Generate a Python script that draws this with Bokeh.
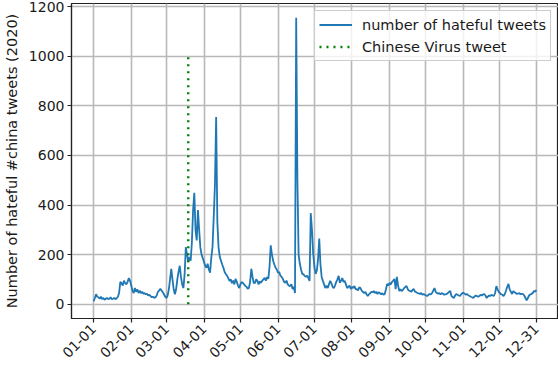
import math
import pandas as pd
from bokeh.plotting import figure
from bokeh.models import Range1d, FixedTicker
from bokeh.embed import file_html
from bokeh.resources import INLINE

# ---- data (daily counts of hateful #china tweets, 2020) ----
start_date = "2020-01-01"
jan = [12, 25, 40, 30, 28, 22, 30, 20, 25, 18, 22, 25, 20, 22, 28, 20, 22, 25, 20, 24,
       30, 45, 90, 85, 75, 95, 85, 80, 90, 105, 95]
feb = [75, 55, 45, 65, 50, 60, 45, 55, 45, 50, 42, 45, 40, 42, 35, 38, 32, 28, 30, 25,
       28, 35, 50, 55, 62, 55, 48, 40, 30]
mar = [25, 35, 60, 100, 143, 100, 60, 40, 60, 100, 130, 155, 110, 80, 65, 120, 230, 200,
       170, 190, 175, 250, 380, 449, 300, 257, 380, 300, 228, 200, 185]
apr = [170, 155, 147, 163, 140, 127, 188, 230, 351, 480, 755, 330, 229, 190, 175, 160,
       147, 130, 122, 115, 105, 94, 100, 85, 95, 80, 102, 90, 75, 65]
may = [80, 90, 86, 80, 73, 70, 62, 65, 90, 143, 110, 85, 86, 100, 94, 80, 92, 86, 95, 100,
       106, 95, 110, 102, 150, 237, 200, 175, 160, 147, 140]
jun = [127, 130, 115, 110, 102, 90, 86, 95, 80, 75, 73, 80, 61, 70, 45, 1155, 500, 200,
       163, 140, 122, 120, 114, 110, 115, 106, 94, 367, 300, 204]
jul = [150, 122, 135, 180, 265, 160, 110, 94, 80, 65, 75, 65, 80, 94, 85, 70, 65, 75, 90,
       100, 114, 86, 95, 105, 90, 94, 80, 65, 70, 75, 61]
aug = [70, 65, 73, 60, 61, 55, 68, 65, 55, 50, 45, 50, 40, 33, 40, 45, 50, 48, 53, 45,
       50, 41, 48, 45, 40, 44, 38, 41, 60, 82, 75]
sep = [86, 80, 90, 95, 102, 61, 110, 75, 53, 60, 53, 58, 65, 70, 73, 60, 55, 53, 50, 58,
       61, 50, 48, 45, 44, 41, 45, 38, 41, 38]
oct_ = [35, 33, 38, 41, 40, 45, 55, 65, 50, 45, 42, 45, 40, 45, 42, 38, 40, 41, 45, 50,
        53, 33, 28, 25, 35, 41, 38, 35, 33, 40, 45]
nov = [45, 42, 38, 41, 35, 33, 30, 28, 25, 30, 35, 33, 30, 33, 38, 35, 40, 41, 35, 25,
       30, 35, 33, 38, 35, 33, 45, 73, 60, 50]
dec = [45, 40, 38, 33, 41, 55, 70, 82, 60, 50, 41, 53, 48, 45, 41, 43, 45, 40, 42, 41,
       35, 25, 15, 25, 35, 40, 41, 45, 53, 50, 57]

tick_dates = ["2020-01-01", "2020-02-01", "2020-03-01", "2020-04-01", "2020-05-01",
              "2020-06-01", "2020-07-01", "2020-08-01", "2020-09-01", "2020-10-01",
              "2020-11-01", "2020-12-01", "2020-12-31"]
tick_labels = ["01-01", "02-01", "03-01", "04-01", "05-01", "06-01", "07-01", "08-01",
               "09-01", "10-01", "11-01", "12-01", "12-31"]
y_ticks = [0, 200, 400, 600, 800, 1000, 1200]

event_date = "2020-03-19"
event_y = [0, 1000]

series_name = "number of hateful tweets"
event_name = "Chinese Virus tweet"
y_label = "Number of hateful #china tweets (2020)"

# ---- build ----
counts = jan + feb + mar + apr + may + jun + jul + aug + sep + oct_ + nov + dec
t0 = pd.Timestamp(start_date)
x_days = list(range(len(counts)))
tick_pos = [(pd.Timestamp(d) - t0).days for d in tick_dates]
ev_x = (pd.Timestamp(event_date) - t0).days

FONT = "DejaVu Sans"
TXT = "#1a1a1a"

p = figure(width=558, height=366, output_backend="svg", toolbar_location=None,
           x_range=Range1d(-18.25, 383.25), y_range=Range1d(-57.75, 1212.75),
           min_border_top=3, min_border_right=0, min_border_left=0, min_border_bottom=48)

p.line(x_days, counts, line_color="#1f77b4", line_width=1.8, legend_label=series_name)
p.line([ev_x, ev_x], event_y, line_color="green", line_width=2.4,
       line_dash="2 5", legend_label=event_name)

# axes
p.xaxis.ticker = FixedTicker(ticks=tick_pos)
p.xaxis.major_label_overrides = {pos: lab for pos, lab in zip(tick_pos, tick_labels)}
p.xaxis.major_label_orientation = math.pi / 4
p.yaxis.ticker = FixedTicker(ticks=y_ticks)
p.yaxis.axis_label = y_label

for ax in (p.xaxis, p.yaxis):
    ax.major_label_text_font = FONT
    ax.major_label_text_font_size = "14px"
    ax.major_label_text_color = TXT
    ax.axis_label_text_font = FONT
    ax.axis_label_text_font_size = "14.5px"
    ax.axis_label_text_font_style = "normal"
    ax.axis_label_text_color = TXT
    ax.axis_line_color = "#222222"
    ax.axis_line_width = 1.2
    ax.major_tick_line_color = "#222222"
    ax.major_tick_line_width = 1.2
    ax.major_tick_out = 4
    ax.major_tick_in = 0
    ax.minor_tick_line_color = None
p.yaxis.major_label_standoff = 3
p.xaxis.major_label_standoff = 4
p.yaxis.axis_label_standoff = 6

p.outline_line_color = "#222222"
p.outline_line_width = 1.2
p.outline_line_alpha = 1

p.xgrid.grid_line_color = "#b8b8b8"
p.ygrid.grid_line_color = "#b8b8b8"
p.xgrid.grid_line_width = 1.6
p.ygrid.grid_line_width = 1.6

p.background_fill_color = "white"
p.border_fill_color = "white"

lg = p.legend[0]
lg.location = "top_right"
lg.margin = 7
lg.padding = 4
lg.spacing = 3
lg.glyph_width = 33
lg.glyph_height = 19
lg.label_height = 19
lg.label_standoff = 10
lg.label_text_font = FONT
lg.label_text_font_size = "14.5px"
lg.label_text_color = TXT
lg.border_line_color = "#cccccc"
lg.border_line_width = 1
lg.border_line_alpha = 1
lg.background_fill_alpha = 0.8

open("out.html", "w").write(file_html(p, INLINE))
